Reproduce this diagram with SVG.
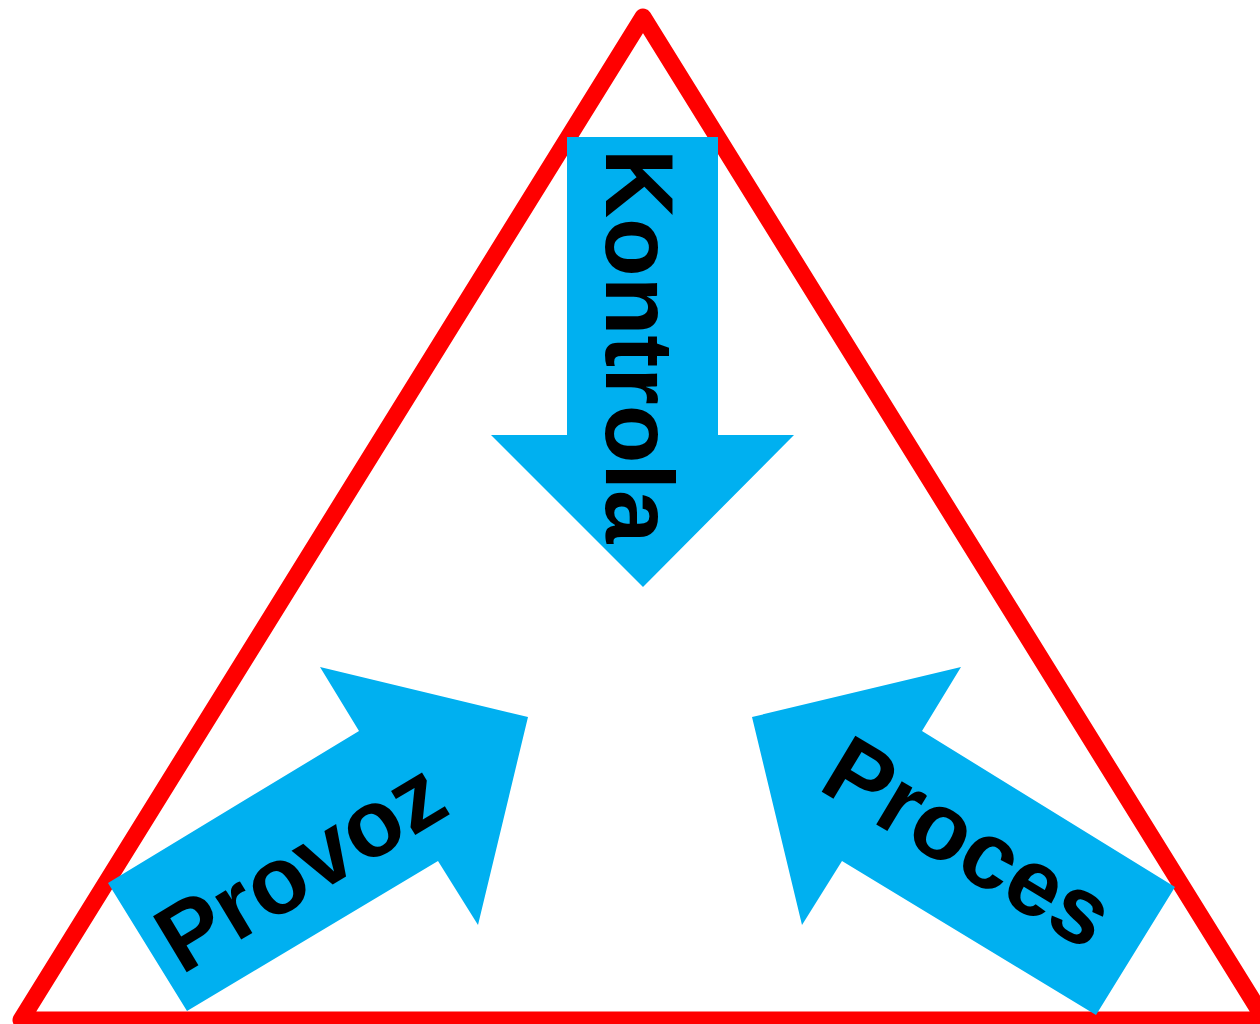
<svg xmlns="http://www.w3.org/2000/svg" width="1260" height="1024" viewBox="0 0 1260 1024">
<style>
.tri{fill:none;stroke:#FF0000;stroke-width:17;stroke-linejoin:round}
.arrow{fill:#00B0F0;stroke:none}
.lbl{font-family:"Liberation Sans",Arial,sans-serif;font-weight:bold;font-size:95px;fill:#000;text-anchor:middle}
</style>
<rect width="1260" height="1024" fill="#fff"/>
<g id="frame">
<polygon class="tri" points="643,17 21,1020 1265,1020"/>
</g>
<g id="connectors">
<g id="kontrola">
<polygon class="arrow" points="567,137 718,137 718,435 794,435 643,587 491,435 567,435"/>
<text class="lbl" style="font-size:96px" transform="translate(606,346) rotate(90)">Kontrola</text>
</g>
<g id="provoz">
<polygon class="arrow" points="108,883 359,731 320,667 528,717 478,925 438,861 187,1011"/>
<text class="lbl" transform="translate(317,894) rotate(-31)">Provoz</text>
</g>
<g id="proces">
<polygon class="arrow" points="752,717 961,667 922,731 1175,887 1096,1015 842,861 802,925"/>
<text class="lbl" transform="translate(952,870) rotate(31)">Proces</text>
</g>
</g>
</svg>
